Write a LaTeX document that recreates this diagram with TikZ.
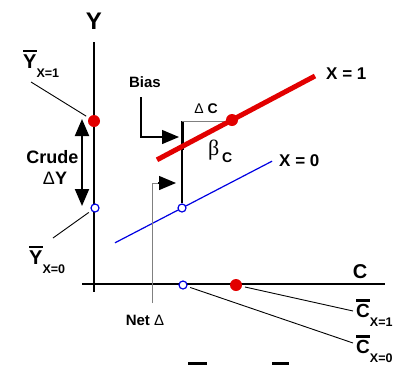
\documentclass[tikz,border=0pt]{standalone}
\usepackage{fontspec}
\setmainfont{Liberation Sans}
\newfontfamily\greekfont{Liberation Serif}
\usetikzlibrary{arrows.meta}
\definecolor{dotred}{RGB}{226,0,0}
\definecolor{lineblue}{RGB}{0,0,226}
\newcommand{\sz}[1]{\fontsize{#1}{#1}\selectfont}
\newcommand{\barred}[1]{\vbox{\hrule height 2.4pt\kern 2.2pt\hbox{#1}}}
\newcommand{\barlab}[2]{\barred{#1}\raisebox{-9pt}{\sz{12.5}#2}}
\begin{document}
\begin{tikzpicture}[x=1pt,y=-1pt,font=\bfseries,>={Triangle[length=17pt,width=14pt]},
  txt/.style={inner sep=0pt,anchor=base},
  reddot/.style={circle,fill=dotred,inner sep=0pt,minimum size=12pt},
  bluedot/.style={circle,draw=lineblue,fill=white,line width=1.2pt,inner sep=0pt,minimum size=8pt},
  leader/.style={line width=.9pt,shorten >=3pt}]
  \useasboundingbox (0,0) rectangle (412,365);
  % axes
  \coordinate (ytop) at (94,42);  \coordinate (ybot) at (94,292);
  \coordinate (cleft) at (82,284); \coordinate (cright) at (385,284);
  \draw[line width=1.3pt] (ytop) -- (ybot);
  \draw[line width=1.3pt] (cleft) -- (cright);
  \node[txt,font=\bfseries\sz{24}] (ylab) at (94,29.5) {Y};
  \node[txt,font=\bfseries\sz{20}] (clab) at (360,278.5) {C};
  % bias segment and delta C
  \coordinate (bt) at (182,121); \coordinate (bm) at (182,150);
  \draw[line width=3pt] (bt) -- (bm);
  \draw[gray,line width=1pt] (bt) -- (232,121);
  % regression lines
  \draw[lineblue,line width=1.2pt] (115,242.8) coordinate (b0) -- (272,161.2) coordinate (b1);
  \draw[dotred,line width=5pt] (157,159.8) coordinate (r0) -- (315,76) coordinate (r1);
  \node[txt,anchor=base west,font=\bfseries\sz{17}] (x1lab) at (326,79) {X = 1};
  \node[txt,anchor=base west,font=\bfseries\sz{17}] (x0lab) at (279,166) {X = 0};
  % means
  \node[reddot] (y1) at (94,121) {};
  \node[bluedot] (y0) at (95,208) {};
  \node[reddot] (m1) at (232,120) {};
  \node[bluedot] (m0) at (182,208) {};
  \node[reddot] (c1) at (236,285) {};
  \node[bluedot] (c0) at (183,285) {};
  \draw[line width=1.3pt] (bm) -- (m0);
  % labels
  \node[txt,font=\bfseries\sz{14}] (dc) at (206,113) {{\mdseries Δ} C};
  \node[txt,anchor=base west,font=\greekfont\sz{22}] (beta) at (208,155) {β};
  \node[txt,anchor=base west,font=\bfseries\sz{14}] (betasub) at (222,162) {C};
  \node[txt,font=\bfseries\sz{15}] (bias) at (145,87) {Bias};
  \coordinate (biastip) at (179,137);
  \draw[->,line width=1.3pt] ([xshift=-4pt,yshift=-10pt]bias.south) |- (biastip);
  \node[txt,font=\bfseries\sz{15}] (net) at (145,325) {Net {\mdseries Δ}};
  \coordinate (netfoot) at (152,303); \coordinate (netknee) at (158,183);
  \coordinate (nettip) at (176,183);
  \draw[gray,line width=1pt] (netfoot) |- (netknee);
  \draw[->,line width=1.3pt] (netknee) -- (nettip);
  % crude difference
  \coordinate (crtop) at (82,119); \coordinate (crbot) at (82,206);
  \draw[<->,line width=2pt] (crtop) -- (crbot);
  \node[txt,font=\bfseries\sz{18}] (crude) at (52.5,163) {Crude};
  \node[txt,font=\bfseries\sz{18}] (dy) at (55,184) {{\mdseries Δ}Y};
  % barred labels and leaders
  \node[txt,anchor=base west,font=\bfseries\sz{20}] (ybar1) at (23,68) {\barlab{Y}{X=1}};
  \node[txt,anchor=base west,font=\bfseries\sz{20}] (ybar0) at (29,264) {\barlab{Y}{X=0}};
  \node[txt,anchor=base west,font=\bfseries\sz{19}] (cbar1) at (356,317) {\barlab{C}{X=1}};
  \node[txt,anchor=base west,font=\bfseries\sz{19}] (cbar0) at (356,353) {\barlab{C}{X=0}};
  \coordinate (ly1) at (31,82);  \coordinate (ly0) at (53,238);
  \coordinate (lc1) at (353,311); \coordinate (lc0) at (353,343);
  \draw[leader] (ly1) -- (y1);
  \draw[leader] (ly0) -- (y0);
  \draw[leader] (lc1) -- (c1);
  \draw[leader] (lc0) -- (c0);
  % stray bars
  \draw[line width=3pt] (188,363) -- (207,363);
  \draw[line width=3pt] (272,363) -- (289,363);
\end{tikzpicture}
\end{document}
